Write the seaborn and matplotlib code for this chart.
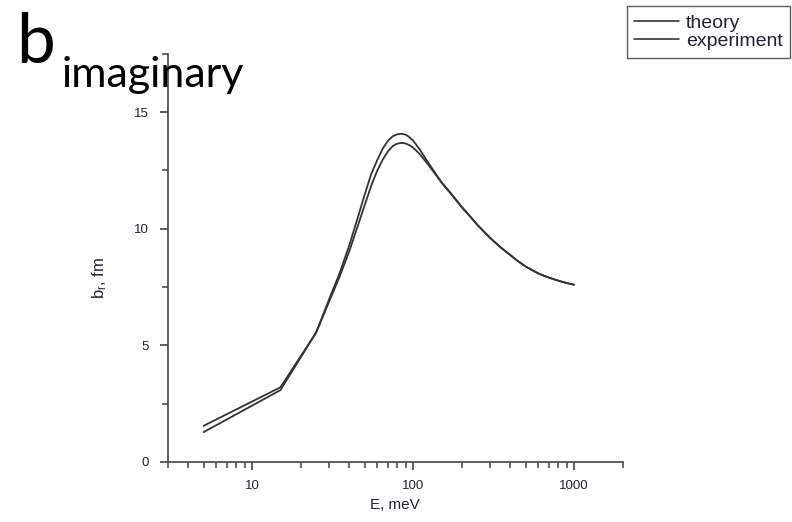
import matplotlib
matplotlib.use("Agg")
import matplotlib.pyplot as plt
import numpy as np
import pandas as pd
import seaborn as sns
from matplotlib.ticker import FixedLocator, LogLocator, NullFormatter, FuncFormatter

# values
energy_mev = [5, 15, 25, 30, 35, 40, 45, 50, 55, 60, 65, 70, 75, 80, 85, 90, 95, 100,
              110, 125, 140, 150, 175, 200, 225, 250, 300, 350, 400, 450, 500, 600,
              700, 800, 900, 1000]
theory_fm = [1.55, 3.2, 5.55, 6.95, 8.1, 9.25, 10.4, 11.45, 12.35, 12.95, 13.45, 13.78, 13.97, 14.05,
             14.07, 14.03, 13.92, 13.78, 13.4, 12.8, 12.3, 12.0, 11.45, 10.95, 10.55, 10.18,
             9.62, 9.2, 8.88, 8.6, 8.38, 8.08, 7.9, 7.77, 7.67, 7.6]
experiment_fm = [1.28, 3.08, 5.55, 6.85, 7.95, 9.0, 10.05, 11.0, 11.85, 12.5, 12.98, 13.33, 13.55, 13.65,
                 13.68, 13.65, 13.58, 13.48, 13.2, 12.72, 12.27, 11.98, 11.43, 10.93, 10.54, 10.17,
                 9.61, 9.2, 8.88, 8.6, 8.38, 8.08, 7.9, 7.77, 7.67, 7.6]
series_names = ["theory", "experiment"]

y_major = [0, 5, 10, 15]
y_minor = [2.5, 7.5, 12.5, 17.5]

TEXT = "#222233"
LINE = "#333333"

df = pd.DataFrame({
    "E": energy_mev * 2,
    "b": theory_fm + experiment_fm,
    "series": [series_names[0]] * len(energy_mev) + [series_names[1]] * len(energy_mev),
})

sns.set_theme(style="white", context="paper")
plt.rcParams.update({
    "font.family": ["Liberation Sans", "DejaVu Sans"],
    "mathtext.default": "regular",
    "axes.edgecolor": "#444444",
    "axes.linewidth": 1.2,
    "xtick.color": "#444444",
    "ytick.color": "#444444",
})

fig = plt.figure(figsize=(7.92, 5.22), dpi=100)
ax = fig.add_axes([0.212, 0.115, 0.574, 0.782])

sns.lineplot(data=df, x="E", y="b", hue="series", hue_order=series_names,
             palette=[LINE, LINE], linewidth=1.3, ax=ax, legend=False)

ax.set_xscale("log")
ax.set_xlim(3, 2000)
ax.set_ylim(0, 17.5)
ax.xaxis.set_major_locator(FixedLocator([10, 100, 1000]))
ax.xaxis.set_major_formatter(FuncFormatter(lambda v, p: f"{v:.0f}"))
ax.xaxis.set_minor_locator(LogLocator(base=10, subs=np.arange(2, 10)))
ax.xaxis.set_minor_formatter(NullFormatter())
ax.yaxis.set_major_locator(FixedLocator(y_major))
ax.yaxis.set_minor_locator(FixedLocator(y_minor))

ax.tick_params(which="major", direction="out", length=6, width=1.2, labelsize=9.5,
               labelcolor=TEXT, left=True, bottom=True)
ax.tick_params(axis="y", which="major", pad=8)
ax.tick_params(axis="x", which="major", pad=7)
ax.tick_params(which="minor", direction="out", length=4, width=1.1, left=True, bottom=True)
ax.spines[["top", "right"]].set_visible(False)

ax.set_xlabel("E, meV", fontsize=11, color=TEXT, labelpad=4)
ax.set_ylabel("b$_r$, fm", fontsize=12, color=TEXT)
ax.yaxis.set_label_coords(-0.13, 0.45)

# legend box at the top right corner
handles = [plt.Line2D([], [], color="#222222", linewidth=1.1) for _ in series_names]
leg = fig.legend(handles, series_names, loc="upper right", bbox_to_anchor=(0.998, 0.988),
                 frameon=True, fancybox=False, edgecolor="#333333", fontsize=14,
                 handlelength=2.3, handletextpad=0.35, borderpad=0.4, labelspacing=0.05,
                 borderaxespad=0.0)
leg.get_frame().set_linewidth(1.0)
for t in leg.get_texts():
    t.set_color(TEXT)

# big slide-style title
fig.text(0.02, 0.879, "b", fontsize=50, family=["Lato", "DejaVu Sans"], color="black",
         ha="left", va="baseline", zorder=10)
fig.text(0.078, 0.833, "imaginary", fontsize=31, family=["Lato", "DejaVu Sans"], color="black",
         ha="left", va="baseline", zorder=10)

fig.savefig("out.png", dpi=100)
